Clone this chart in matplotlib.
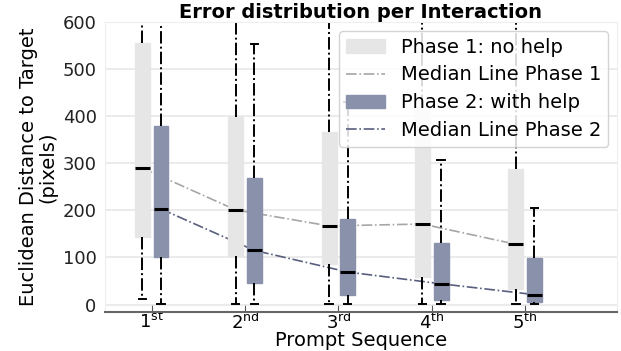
import matplotlib

matplotlib.use("Agg")
import matplotlib.pyplot as plt
from matplotlib.lines import Line2D
from matplotlib.patches import Patch

# box stats (pixels)
prompts = ["1$^{\\mathrm{st}}$", "2$^{\\mathrm{nd}}$", "3$^{\\mathrm{rd}}$", "4$^{\\mathrm{th}}$", "5$^{\\mathrm{th}}$"]
p1_med = [290, 201, 167, 171, 128]
p1_q1 = [143, 103, 87, 59, 34]
p1_q3 = [555, 399, 366, 420, 287]
p1_lo = [11, 2, 2, 2, 2]
p1_hi = [800, 800, 800, 800, 800]
p2_med = [203, 115, 69, 44, 21]
p2_q1 = [100, 46, 20, 9, 6]
p2_q3 = [380, 269, 182, 131, 98]
p2_lo = [2, 2, 2, 1, 1]
p2_hi = [800, 553, 430, 307, 205]

P1_COL, P2_COL = "#e6e6e6", "#8991ab"
P1_LINE, P2_LINE = "#a6a6a6", "#585f7e"


def stats(med, q1, q3, lo, hi):
    return [dict(med=m, q1=a, q3=b, whislo=l, whishi=h, fliers=[])
            for m, a, b, l, h in zip(med, q1, q3, lo, hi)]


fig, ax = plt.subplots(figsize=(6.21, 3.51), dpi=100)
fig.subplots_adjust(left=0.169, right=0.993, top=0.937, bottom=0.111)

pos = list(range(1, len(prompts) + 1))
off, w = 0.1, 0.16
common = dict(widths=w, patch_artist=True, showfliers=False,
              whiskerprops=dict(color="black", lw=1.4, ls="-."),
              capprops=dict(color="black", lw=1.4),
              medianprops=dict(color="black", lw=2.2))
b1 = ax.bxp(stats(p1_med, p1_q1, p1_q3, p1_lo, p1_hi), positions=[p - off for p in pos],
            boxprops=dict(facecolor=P1_COL, edgecolor=P1_COL), **common)
b2 = ax.bxp(stats(p2_med, p2_q1, p2_q3, p2_lo, p2_hi), positions=[p + off for p in pos],
            boxprops=dict(facecolor=P2_COL, edgecolor=P2_COL), **common)
for c in b1["caps"] + b2["caps"]:
    x = c.get_xdata()
    mid = (x[0] + x[1]) / 2
    c.set_xdata([mid - w / 4, mid + w / 4])

ax.plot([p - off for p in pos], p1_med, ls="-.", color=P1_LINE, lw=1.2, zorder=1.5)
ax.plot([p + off for p in pos], p2_med, ls="-.", color=P2_LINE, lw=1.2, zorder=1.5)

ax.set_xlim(0.5, 5.98)
ax.set_ylim(-16, 600)
ax.set_xticks(pos)
ax.set_xticklabels(prompts, fontsize=13)
ax.set_yticks(range(0, 601, 100))
ax.tick_params(axis="y", labelsize=13, length=0, colors="#222222", pad=6)
ax.tick_params(axis="x", direction="in", length=6, color="#555555", pad=0)
ax.yaxis.grid(True, color="#e8e8e8", lw=1.2)
ax.set_axisbelow(True)
for s in ["top", "right", "left"]:
    ax.spines[s].set_color("#eeeeee")
ax.spines["bottom"].set_color("#666666")
ax.spines["bottom"].set_linewidth(1.5)

ax.set_title("Error distribution per Interaction", fontsize=14, fontweight="bold", pad=3)
ax.set_xlabel("Prompt Sequence", fontsize=14, labelpad=-1.5)
ax.set_ylabel("Euclidean Distance to Target\n(pixels)", fontsize=14, linespacing=1.0, labelpad=4)

handles = [Patch(color=P1_COL), Line2D([], [], ls="-.", color=P1_LINE, lw=1.2),
           Patch(color=P2_COL), Line2D([], [], ls="-.", color=P2_LINE, lw=1.2)]
labels = ["Phase 1: no help", "Median Line Phase 1", "Phase 2: with help", "Median Line Phase 2"]
leg = ax.legend(handles, labels, loc="upper right", fontsize=14, framealpha=0.85,
                borderaxespad=0.45, labelspacing=0.45, handlelength=2.0, borderpad=0.35,
                handletextpad=0.8)
leg.set_zorder(5)

fig.savefig("out.png", dpi=100)
